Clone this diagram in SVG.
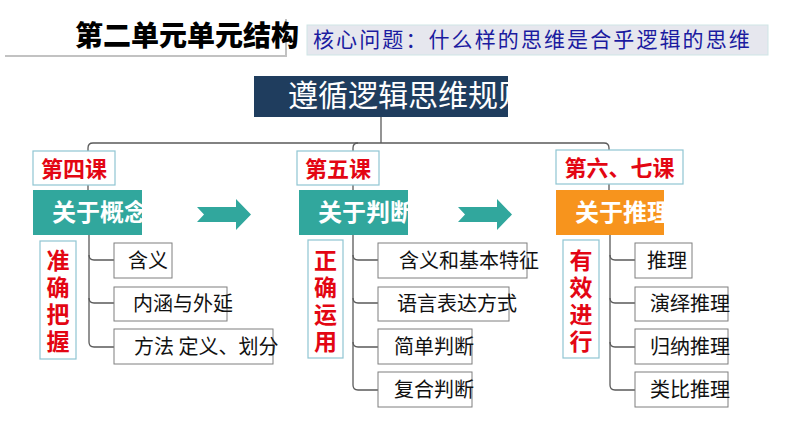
<svg xmlns="http://www.w3.org/2000/svg" width="794" height="447" viewBox="0 0 794 447">
<style>
.cn{font-family:"Noto Sans CJK SC","Noto Sans",sans-serif}
.lesson{fill:#ffffff;stroke:#8fc5d2;stroke-width:1.2}
.lt{font-size:22px;font-weight:bold;fill:#e30613;text-anchor:middle}
.topic{font-size:24px;font-weight:bold;fill:#ffffff}
.vt{font-size:23px;font-weight:bold;fill:#e30613;writing-mode:vertical-rl;letter-spacing:4px}
.br{fill:#ffffff;stroke:#7f7f7f;stroke-width:1}
.bt{font-size:20px;fill:#111111}
.ln{fill:none;stroke:#5a5a5a;stroke-width:1.3}
.arr{fill:#31a79d}
</style>
<defs>
<clipPath id="cMain"><rect x="254" y="76" width="254" height="41"/></clipPath>
<clipPath id="c1"><rect x="33" y="190" width="109" height="45"/></clipPath>
<clipPath id="c2"><rect x="299" y="190" width="109" height="45"/></clipPath>
<clipPath id="c3"><rect x="556" y="190" width="108" height="45"/></clipPath>
</defs>
<rect width="794" height="447" fill="#ffffff"/>

<g id="title">
<rect x="5" y="19" width="282" height="38" fill="#9a9a9a" opacity="0.6"/>
<rect x="3" y="17" width="282" height="38" fill="#ffffff"/>
<text class="cn" x="75" y="46" font-size="28" font-weight="900" fill="#000000">第二单元单元结构</text>
</g>

<g id="question">
<rect x="307" y="25" width="461" height="30" fill="#e6e7ee" stroke="#cfe5e6" stroke-width="1"/>
<text class="cn" x="313" y="47" font-size="21" fill="#1b1ba0" letter-spacing="2.1">核心问题：什么样的思维是合乎逻辑的思维</text>
</g>

<g id="connectors">
<path class="ln" d="M381,117 V143"/>
<path class="ln" d="M88,160 V148 Q88,143 93,143 H604 Q609,143 609,148 V160"/>
<path class="ln" d="M358,143 Q353,143 353,148 V160"/>
<path class="ln" d="M88,180 V195"/>
<path class="ln" d="M353,180 V195"/>
<path class="ln" d="M609,180 V195"/>
<path class="ln" d="M89,235 V342 Q89,347 94,347 H114"/>
<path class="ln" d="M89,255 Q89,260 94,260 H114"/>
<path class="ln" d="M89,298 Q89,303 94,303 H114"/>
<path class="ln" d="M353,235 V385 Q353,390 358,390 H378"/>
<path class="ln" d="M353,255 Q353,260 358,260 H378"/>
<path class="ln" d="M353,298 Q353,303 358,303 H378"/>
<path class="ln" d="M353,342 Q353,347 358,347 H378"/>
<path class="ln" d="M610,235 V385 Q610,390 615,390 H635"/>
<path class="ln" d="M610,255 Q610,260 615,260 H635"/>
<path class="ln" d="M610,298 Q610,303 615,303 H635"/>
<path class="ln" d="M610,342 Q610,347 615,347 H635"/>
<polygon class="arr" points="197,207 236,207 236,199 251,214.5 236,230 236,222 197,222 204,214.5"/>
<polygon class="arr" points="458,207 497,207 497,199 512,214.5 497,230 497,222 458,222 465,214.5"/>
</g>

<g id="main">
<rect x="254" y="76" width="254" height="41" fill="#1f3d5e"/>
<text class="cn" x="288" y="106" font-size="30" fill="#ffffff" clip-path="url(#cMain)">遵循逻辑思维规则</text>
</g>

<g id="lesson4">
<rect class="lesson" x="33" y="151" width="82" height="34"/>
<text class="cn lt" x="74" y="177">第四课</text>
</g>
<g id="lesson5">
<rect class="lesson" x="297" y="151" width="82" height="34"/>
<text class="cn lt" x="338" y="177">第五课</text>
</g>
<g id="lesson67">
<rect class="lesson" x="556" y="150" width="127" height="34"/>
<text class="cn lt" x="619.5" y="176">第六、七课</text>
</g>

<g id="topic1">
<rect x="33" y="190" width="109" height="45" fill="#31a79d"/>
<text class="cn topic" x="52" y="221" clip-path="url(#c1)">关于概念</text>
</g>
<g id="topic2">
<rect x="299" y="190" width="109" height="45" fill="#31a79d"/>
<text class="cn topic" x="318" y="221" clip-path="url(#c2)">关于判断</text>
</g>
<g id="topic3">
<rect x="556" y="190" width="108" height="45" fill="#f7941d"/>
<text class="cn topic" x="575" y="221" clip-path="url(#c3)">关于推理</text>
</g>

<g id="v1">
<rect class="lesson" x="40" y="241" width="36" height="118"/>
<text class="cn vt" x="58" y="249">准确把握</text>
</g>
<g id="v2">
<rect class="lesson" x="308" y="240" width="35" height="118"/>
<text class="cn vt" x="325.5" y="249">正确运用</text>
</g>
<g id="v3">
<rect class="lesson" x="563" y="240" width="36" height="118"/>
<text class="cn vt" x="581" y="249">有效进行</text>
</g>

<g id="b1a"><rect class="br" x="114" y="243" width="58" height="35"/><text class="cn bt" x="128" y="268">含义</text></g>
<g id="b1b"><rect class="br" x="114" y="287" width="113" height="34"/><text class="cn bt" x="133" y="311">内涵与外延</text></g>
<g id="b1c"><rect class="br" x="114" y="329" width="159" height="35"/><text class="cn bt" x="134" y="354">方法 定义、划分</text></g>

<g id="b2a"><rect class="br" x="378" y="243" width="149" height="35"/><text class="cn bt" x="399" y="268">含义和基本特征</text></g>
<g id="b2b"><rect class="br" x="378" y="287" width="131" height="34"/><text class="cn bt" x="397" y="311">语言表达方式</text></g>
<g id="b2c"><rect class="br" x="378" y="329" width="94" height="35"/><text class="cn bt" x="394" y="354">简单判断</text></g>
<g id="b2d"><rect class="br" x="378" y="372" width="94" height="35"/><text class="cn bt" x="394" y="397">复合判断</text></g>

<g id="b3a"><rect class="br" x="635" y="243" width="57" height="35"/><text class="cn bt" x="647" y="268">推理</text></g>
<g id="b3b"><rect class="br" x="635" y="287" width="93" height="34"/><text class="cn bt" x="650" y="311">演绎推理</text></g>
<g id="b3c"><rect class="br" x="635" y="329" width="93" height="35"/><text class="cn bt" x="650" y="354">归纳推理</text></g>
<g id="b3d"><rect class="br" x="635" y="372" width="93" height="35"/><text class="cn bt" x="650" y="397">类比推理</text></g>
</svg>
